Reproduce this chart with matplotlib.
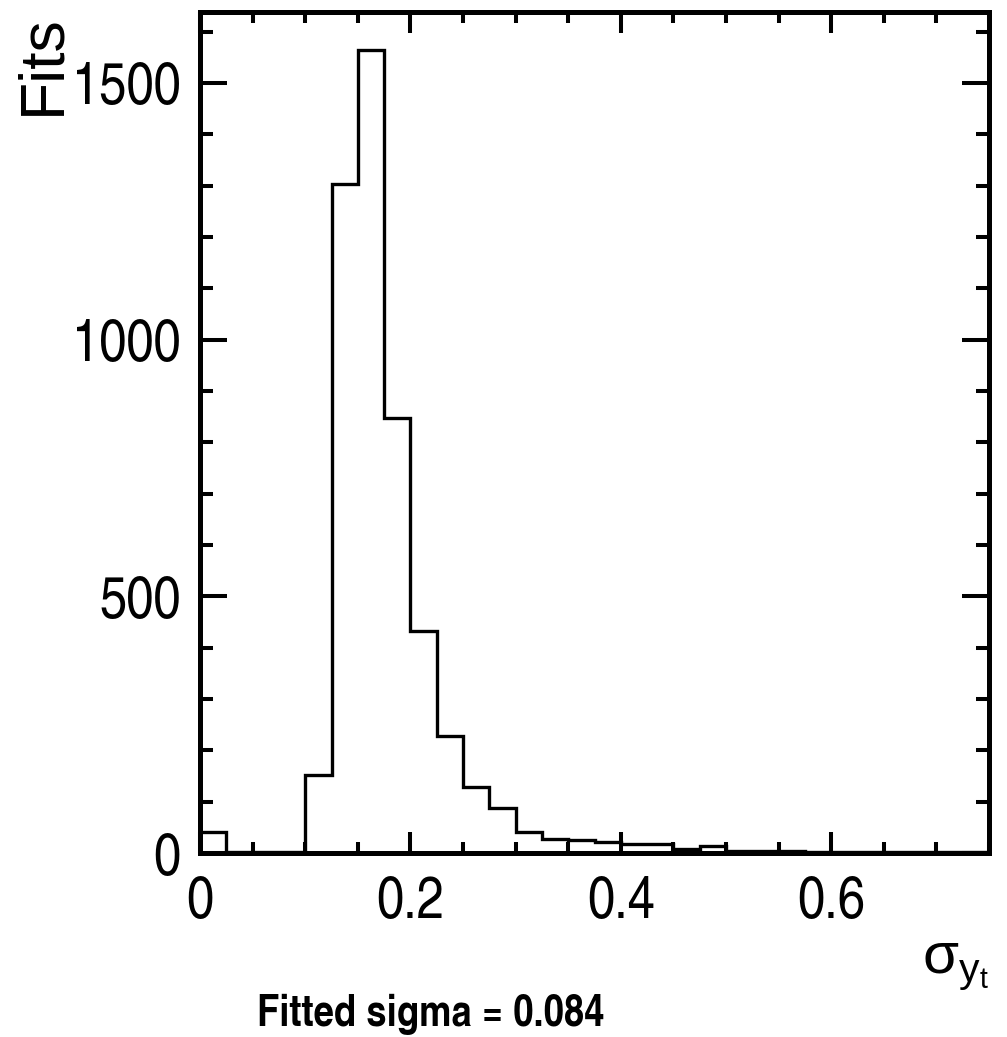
"""Histogram of fitted sigma values, ROOT-like styling."""
import numpy as np
import matplotlib

matplotlib.use("Agg")

import matplotlib.pyplot as plt  # noqa: E402
from matplotlib.ticker import MultipleLocator  # noqa: E402

# Bin layout (x axis) and counts per bin.
BIN_START = 0.0
BIN_WIDTH = 0.025
COUNTS = [
    41, 2, 2, 2, 152, 1303, 1564, 847, 432, 228,
    128, 87, 41, 27, 26, 21, 17, 17, 7, 14,
    4, 3, 3, 2, 2, 2, 1, 1, 1, 1,
]
X_TICKS = [0.0, 0.2, 0.4, 0.6]
X_TICK_LABELS = ["0", "0.2", "0.4", "0.6"]
Y_TICKS = [0, 500, 1000, 1500]
Y_TICK_LABELS = ["0", "500", "1000", "1500"]

Y_LABEL = "Fits"
X_LABEL = r"$\mathrm{\sigma_{y_{t}}}$"
CAPTION = "Fitted sigma = 0.084"

NARROW = ["TeX Gyre Heros Cn", "Roboto Condensed", "DejaVu Sans"]
WIDE = ["Liberation Sans", "DejaVu Sans"]

plt.rcParams["font.family"] = NARROW
plt.rcParams["mathtext.fontset"] = "custom"
plt.rcParams["mathtext.rm"] = "Liberation Sans"
plt.rcParams["mathtext.it"] = "Liberation Sans:italic"

W, H = 1007, 1037
fig = plt.figure(figsize=(W / 100, H / 100), dpi=100)
ax = fig.add_axes([200 / W, 1 - 853 / H, (989 - 200) / W, (853 - 12) / H])

edges = BIN_START + BIN_WIDTH * np.arange(len(COUNTS) + 1)
ax.stairs(COUNTS, edges, color="black", linewidth=2.4, baseline=None)

ax.set_xlim(edges[0], edges[-1])
ax.set_ylim(0, 1638)

ax.set_xticks(X_TICKS)
ax.set_xticklabels(X_TICK_LABELS)
ax.set_yticks(Y_TICKS)
ax.set_yticklabels(Y_TICK_LABELS)
ax.xaxis.set_minor_locator(MultipleLocator(0.05))
ax.yaxis.set_minor_locator(MultipleLocator(100))

ax.tick_params(which="both", direction="in", top=True, right=True,
               width=2.9, labelsize=43, color="black")
ax.tick_params(axis="x", which="major", length=15, pad=16)
ax.tick_params(axis="x", which="minor", length=8)
ax.tick_params(axis="y", which="major", length=19.5, pad=14)
ax.tick_params(axis="y", which="minor", length=9.4)

for spine in ax.spines.values():
    spine.set_linewidth(3.6)

# axis titles placed the ROOT way: right/top aligned
fig.text(43 / W, 1 - 14 / H, Y_LABEL, rotation=90, ha="center", va="top",
         fontsize=45, family=WIDE)
ax.text(1.0, -0.10, X_LABEL, transform=ax.transAxes, ha="right", va="top",
        fontsize=42)
fig.text(431 / W, 1 - 1014 / H, CAPTION, ha="center", va="center",
         fontsize=32, fontweight="bold")

fig.savefig("out.png", dpi=100, facecolor="white")
